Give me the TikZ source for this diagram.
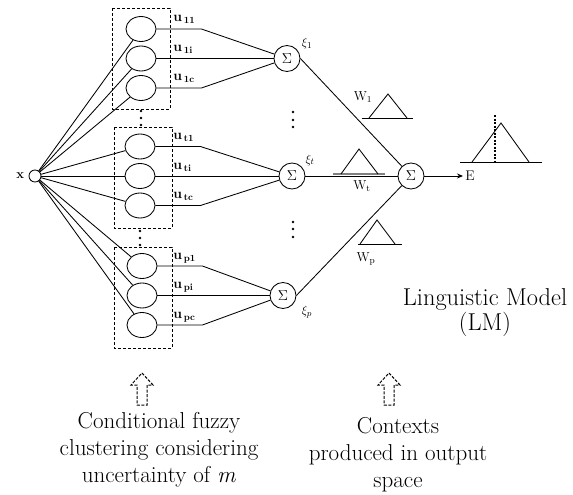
\documentclass[tikz,border=0pt]{standalone}
\usetikzlibrary{positioning, arrows.meta, shapes.geometric}

\begin{document}
\begin{tikzpicture}[
  x=1pt, y=-1pt,
  line width=0.85pt,
  memb/.style={draw, ellipse, minimum width=30pt, minimum height=25pt,
               inner sep=0pt},
  sumnode/.style={draw, circle, minimum size=26pt, inner sep=0pt,
                  font=\fontsize{15}{15}\selectfont},
  clus/.style={draw, line width=0.9pt, dash pattern=on 3pt off 2pt},
  ulab/.style={anchor=base west, inner sep=0pt, font=\bfseries},
  smalllab/.style={inner sep=0pt, font=\fontsize{13}{13}\selectfont},
  bigtext/.style={align=center, anchor=base, inner sep=0pt,
                  font=\fontsize{23}{27}\selectfont},
]
  \useasboundingbox (0,0) rectangle (573,495);

  % Input node
  \node[draw, circle, minimum size=12pt, inner sep=0pt] (xin) at (35,176) {};
  \node[left=4pt of xin, inner sep=0pt,
        font=\fontsize{13}{13}\selectfont\bfseries] (xlab) {x};

  % Cluster boxes
  \draw[clus] (112,8) rectangle (170,109);
  \draw[clus] (114,127) rectangle (172,228);
  \draw[clus] (114,247) rectangle (172,348);

  % Membership nodes and labels
  \foreach \g/\cx/\ytop in {1/141/29, t/140/146.5, p/142/266} {
    \foreach \j/\k in {0/1, 1/i, 2/c} {
      \node[memb] (e\g\k) at (\cx, \ytop+29.5*\j) {};
      \node[ulab] (u\g\k) at (173, \ytop+29.5*\j-7)
        {{\fontsize{14}{14}\selectfont u}\,%
         \raisebox{-2pt}{\fontsize{9.5}{9.5}\selectfont\g\k}};
    }
  }

  % Dots between clusters
  \foreach \y in {111,118,125} \fill (141,\y) circle (1.4pt);
  \foreach \y in {231,238,245} \fill (140,\y) circle (1.4pt);

  % Sum nodes
  \node[sumnode] (s1) at (287,58.5) {$\Sigma$};
  \node[sumnode] (st) at (292,176) {$\Sigma$};
  \node[sumnode] (sp) at (283,295.5) {$\Sigma$};
  \node[sumnode] (sF) at (411,176) {$\Sigma$};

  \node[smalllab] (xi1) at (307,44) {$\xi_1$};
  \node[smalllab] (xit) at (310,160) {$\xi_t$};
  \node[smalllab] (xip) at (307,312) {$\xi_p$};

  % Dots between sums
  \foreach \y in {112,120,127} \fill (293,\y) circle (1.4pt);
  \foreach \y in {222,229,237} \fill (293,\y) circle (1.4pt);

  % Input to membership nodes
  \foreach \g in {1,t,p} {
    \foreach \k in {1,i,c} {
      \draw (xin) -- (e\g\k);
    }
  }

  % Membership nodes to sums
  \foreach \g in {1,t,p} {
    \draw (e\g1.east) -- ++(45,0) -- (s\g);
    \draw (e\g i.east) -- (s\g);
    \draw (e\g c.east) -- ++(45,0) -- (s\g);
  }

  % Sums to output sum
  \draw (s1.east) -- (sF);
  \draw (st) -- (sF);
  \draw (sp.east) -- (sF);

  % Weights
  \node[smalllab] (w1) at (363,97) {W\textsubscript{1}};
  \node[smalllab] (wt) at (362,186) {W\textsubscript{t}};
  \node[smalllab] (wp) at (366,259) {W\textsubscript{p}};

  % Contexts (triangles)
  \draw (362,118) -- (413,118);
  \draw (369,118) -- (388,94) -- (407,118);
  \draw[gray, line width=1.3pt] (333,174) -- (385,174);
  \draw (341,174) -- (359,149) -- (378,174);
  \draw (358,244) -- (402,244);
  \draw (360,244) -- (377,220) -- (395,244);

  % Output
  \coordinate (eout) at (463,176);
  \draw[-{Stealth[length=6pt, width=5pt]}] (sF) -- (eout);
  \node[right=2pt of eout, inner sep=0pt,
        font=\fontsize{14}{14}\selectfont] (elab) {E};
  \draw (460,162) -- (542,162);
  \draw (472,162) -- (501,123) -- (529,162);
  \draw[dash pattern=on 2pt off 1.5pt, line width=1.1pt] (495,115) -- (495,162);

  \node[bigtext, font=\fontsize{24.4}{25}\selectfont]
    (lm) at (485,330) {Linguistic Model\\(LM)};

  % Hollow arrows
  \foreach \cx in {142,389} {
    \draw[dash pattern=on 3pt off 1.5pt, line width=1pt]
      (\cx,373) -- (\cx+11,385) -- (\cx+5,385) -- (\cx+5,405)
      -- (\cx-5,405) -- (\cx-5,385) -- (\cx-11,385) -- cycle;
  }

  \node[bigtext] (cfc) at (159,482)
    {Conditional fuzzy\\clustering considering\\uncertainty of \textit{m}};
  \node[bigtext] (ctx) at (398,487)
    {Contexts\\produced in output\\space};
\end{tikzpicture}
\end{document}
